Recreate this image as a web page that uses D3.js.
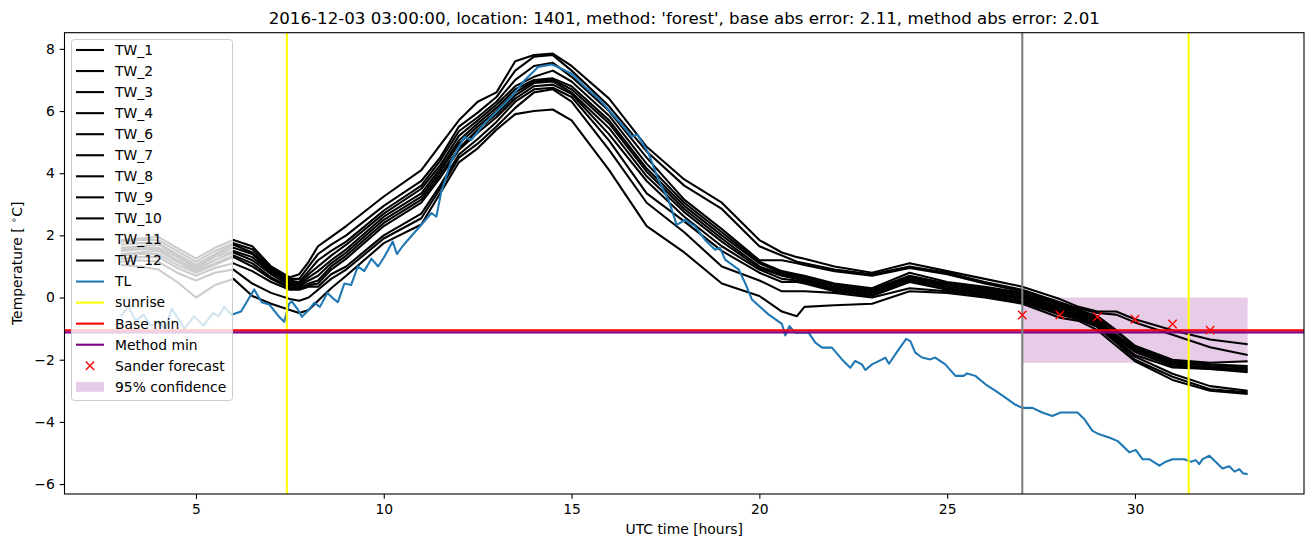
<!DOCTYPE html>
<html><head><meta charset="utf-8">
<script src="https://cdn.jsdelivr.net/npm/d3@7"></script>
<style>body{margin:0;background:#fff} svg{display:block} text{font-family:"DejaVu Sans",sans-serif;fill:#000}</style>
</head><body><svg id="c" width="1313" height="547"></svg>
<script>
// ---------------- data ----------------
const twNames = ["TW_1","TW_2","TW_3","TW_4","TW_6","TW_7","TW_8","TW_9","TW_10","TW_11","TW_12"];
const twHours = [3,3.5,4,4.5,5,5.5,6,6.5,7,7.5,
                 7.75,8,8.25,8.6,9,10,11,11.5,12,12.5,
                 13,13.5,14,14.5,15,16,17,18,19,20,
                 20.6,21,21.2,22,23,24,25,26,27,28,
                 28.5,29,29.5,30,31,32,33];
const tw_1  = [1.85,1.9,1.95,1.6,1.25,1.6,1.85,1.65,1.0,0.65,
               0.75,1.15,1.65,1.95,2.3,3.25,4.1,4.9,5.7,6.3,
               6.6,7.6,7.8,7.85,7.45,6.4,4.85,3.8,3.05,1.85,
               1.45,1.3,1.25,1.0,0.8,1.1,0.85,0.6,0.35,-0.05,
               -0.3,-0.45,-0.45,-0.7,-1.05,-1.35,-1.5];
const tw_2  = [1.8,1.85,1.85,1.5,1.15,1.5,1.75,1.55,0.95,0.6,
               0.6,1.0,1.4,1.7,2.0,2.95,3.75,4.5,5.5,5.95,
               6.45,7.3,7.75,7.8,7.3,6.15,4.7,3.6,2.85,1.65,
               1.35,1.15,1.1,0.9,0.75,1.0,0.8,0.5,0.25,-0.15,
               -0.35,-0.5,-0.55,-0.8,-1.2,-1.6,-1.85];
const tw_3  = [1.7,1.75,1.75,1.4,1.05,1.4,1.7,1.45,0.9,0.55,
               0.5,0.85,1.2,1.5,1.8,2.8,3.6,4.4,5.35,5.8,
               6.3,7.0,7.45,7.55,7.1,6.0,4.5,3.15,2.2,1.2,
               1.2,1.1,1.05,0.85,0.7,0.95,0.75,0.45,0.2,-0.2,
               -0.4,-0.6,-1.05,-1.55,-2.0,-2.1,-2.05];
const tw_4  = [1.6,1.65,1.7,1.35,1.0,1.35,1.6,1.4,0.85,0.5,
               0.45,0.75,1.0,1.35,1.7,2.7,3.5,4.25,5.2,5.7,
               6.2,6.8,7.1,7.3,6.95,5.85,4.3,3.05,2.1,1.15,
               0.85,0.75,0.7,0.45,0.3,0.8,0.5,0.35,0.15,-0.25,
               -0.45,-0.65,-1.1,-1.6,-2.05,-2.15,-2.2];
const tw_6  = [1.55,1.6,1.6,1.3,0.95,1.3,1.5,1.3,0.8,0.45,
               0.4,0.65,0.85,1.2,1.55,2.6,3.35,4.15,5.05,5.6,
               6.1,6.7,7.0,7.05,6.8,5.7,4.15,2.95,2.0,1.1,
               0.8,0.7,0.65,0.4,0.25,0.7,0.45,0.3,0.1,-0.3,
               -0.5,-0.7,-1.2,-1.65,-2.1,-2.2,-2.25];
const tw_7  = [1.5,1.55,1.55,1.2,0.9,1.2,1.45,1.2,0.75,0.4,
               0.35,0.55,0.7,1.1,1.45,2.5,3.25,4.05,4.95,5.5,
               6.0,6.6,6.95,7.0,6.7,5.6,4.05,2.85,1.9,1.0,
               0.75,0.65,0.6,0.35,0.2,0.65,0.4,0.25,0.05,-0.35,
               -0.55,-0.75,-1.25,-1.7,-2.15,-2.25,-2.3];
const tw_8  = [1.4,1.45,1.5,1.15,0.85,1.1,1.35,1.1,0.65,0.35,
               0.3,0.45,0.55,1.0,1.35,2.4,3.15,3.95,4.8,5.4,
               5.9,6.5,6.9,6.95,6.6,5.45,3.9,2.75,1.8,0.95,
               0.7,0.6,0.55,0.3,0.15,0.6,0.35,0.2,0.0,-0.4,
               -0.55,-0.8,-1.3,-1.75,-2.2,-2.3,-2.35];
const tw_9  = [1.35,1.4,1.4,1.05,0.8,1.05,1.3,1.0,0.6,0.3,
               0.3,0.4,0.45,0.9,1.25,2.3,3.05,3.85,4.75,5.3,
               5.8,6.4,6.8,6.85,6.55,5.25,3.75,2.6,1.65,0.9,
               0.6,0.55,0.5,0.25,0.1,0.55,0.3,0.15,-0.05,-0.45,
               -0.6,-0.85,-1.35,-1.85,-2.25,-2.3,-2.4];
const tw_10 = [1.25,1.3,1.3,0.95,0.7,0.95,1.1,0.85,0.5,0.25,
               0.25,0.35,0.35,0.75,1.0,2.0,2.7,3.6,4.6,5.1,
               5.65,6.3,6.7,6.75,6.45,5.05,3.35,2.45,1.5,0.8,
               0.5,0.5,0.45,0.2,0.05,0.5,0.25,0.1,-0.1,-0.5,
               -0.65,-0.9,-1.4,-1.9,-2.45,-2.85,-3.0];
const tw_11 = [1.15,1.2,1.15,0.8,0.55,0.8,0.9,0.45,0.15,-0.05,
               -0.1,0.0,0.25,0.6,0.9,1.9,2.55,3.5,4.5,4.95,
               5.5,6.1,6.6,6.7,6.3,4.75,3.05,2.1,1.0,0.55,
               0.2,0.2,0.2,0.15,0.0,0.3,0.2,0.05,-0.15,-0.55,
               -0.7,-0.95,-1.45,-2.0,-2.55,-2.95,-3.05];
const tw_12 = [1.05,1.0,0.9,0.5,0.0,0.4,0.6,0.05,-0.2,-0.4,
               -0.5,-0.4,-0.1,0.3,0.7,1.75,2.35,3.35,4.35,4.8,
               5.4,5.9,6.0,6.05,5.7,4.1,2.3,1.45,0.45,0.05,
               -0.45,-0.6,-0.3,-0.25,-0.2,0.2,0.15,0.0,-0.2,-0.65,
               -0.75,-1.05,-1.55,-2.05,-2.65,-3.0,-3.1];
const twSeries = [tw_1,tw_2,tw_3,tw_4,tw_6,tw_7,tw_8,tw_9,tw_10,tw_11,tw_12];

const tlHours = [3.0,3.2,3.4,3.6,3.8,4.0,4.2,4.35,4.7,4.95,5.2,5.45,5.6,5.75,5.95,6.2,6.55,6.75,6.95,7.2,
  7.35,7.48,7.55,7.72,7.82,8.0,8.15,8.3,8.5,8.68,8.78,8.95,9.13,9.31,9.48,9.67,9.85,10.0,10.24,10.35,
  10.5,10.73,11.0,11.27,11.4,11.53,11.8,12.15,12.33,12.68,13.05,13.4,13.75,14.11,14.47,14.82,15.0,15.35,15.71,16.07,
  16.38,16.6,16.75,17.05,17.31,17.58,17.8,18.02,18.29,18.55,18.82,18.95,19.09,19.45,19.62,19.8,20.25,20.6,20.69,20.8,
  20.95,21.31,21.49,21.67,21.93,22.2,22.42,22.55,22.73,22.82,23.0,23.27,23.35,23.45,23.71,23.91,24.02,24.15,24.33,24.55,
  24.68,24.95,25.22,25.44,25.53,25.75,26.02,26.29,26.55,26.82,27.0,27.27,27.53,27.8,28.02,28.47,28.65,28.87,29.05,29.31,
  29.53,29.85,30.02,30.2,30.38,30.65,30.82,31.0,31.31,31.49,31.62,31.71,31.8,31.98,32.33,32.51,32.65,32.78,32.87,33.0];
const tlValues = [-0.6,-0.3,-0.75,-0.55,-0.9,-0.8,-1.0,-0.35,-1.0,-0.6,-0.9,-0.5,-0.6,-0.3,-0.55,-0.45,0.26,-0.15,-0.22,-0.6,
  -0.78,-0.2,-0.12,-0.4,-0.62,-0.4,-0.17,-0.3,0.15,-0.06,-0.15,0.45,0.4,1.0,0.85,1.25,1.0,1.28,1.8,1.4,
  1.65,1.97,2.34,2.72,2.6,3.4,4.4,5.17,5.07,5.6,6.03,6.46,6.99,7.42,7.5,7.31,7.2,6.78,6.41,5.93,
  5.5,5.17,5.25,4.64,3.79,3.14,2.34,2.5,2.29,1.86,1.54,1.6,1.22,0.9,0.47,-0.06,-0.55,-0.85,-1.22,-0.92,
  -1.13,-1.13,-1.45,-1.61,-1.61,-1.99,-2.26,-2.04,-2.15,-2.33,-2.15,-1.99,-1.93,-2.13,-1.67,-1.33,-1.4,-1.77,-1.93,-1.99,
  -1.93,-2.15,-2.52,-2.52,-2.44,-2.52,-2.79,-3.0,-3.22,-3.45,-3.55,-3.55,-3.7,-3.81,-3.7,-3.7,-3.91,-4.29,-4.4,-4.5,
  -4.61,-4.98,-4.9,-5.2,-5.2,-5.41,-5.28,-5.2,-5.2,-5.28,-5.23,-5.36,-5.2,-5.09,-5.5,-5.43,-5.6,-5.52,-5.65,-5.68];

const sunriseHours = [7.42, 31.43];
const forecastHour = 27;
const baseMin = -1.05;
const methodMin = -1.12;
const sanderHours = [27, 28, 29, 30, 31, 32];
const sanderValues = [-0.56, -0.56, -0.62, -0.70, -0.85, -1.05];
const confHours = [27, 33];
const confBounds = [-2.1, 0.0];
const xTicks = [5, 10, 15, 20, 25, 30];
const yTicks = [-6, -4, -2, 0, 2, 4, 6, 8];
const xDomain = [1.5, 34.5];
const yDomain = [-6.32, 8.52];
const titleText = "2016-12-03 03:00:00, location: 1401, method: 'forest', base abs error: 2.11, method abs error: 2.01";
const legendLabels = twNames.concat(["TL","sunrise","Base min","Method min","Sander forecast","95% confidence"]);

// ---------------- drawing ----------------
const svg = d3.select("#c");
const L = 64.5, R = 1304, T = 32.7, B = 494;
const LW = 2.08;           // 1.5pt at 100 dpi
const FS = "13.89px";      // 10pt at 100 dpi
const x = d3.scaleLinear().domain(xDomain).range([L, R]);
const y = d3.scaleLinear().domain(yDomain).range([B, T]);

svg.append("defs").append("clipPath").attr("id","clip")
  .append("rect").attr("x",L).attr("y",T).attr("width",R-L).attr("height",B-T);
const plot = svg.append("g").attr("clip-path","url(#clip)");

plot.append("rect")
  .attr("x", x(confHours[0])).attr("width", x(confHours[1]) - x(confHours[0]))
  .attr("y", y(confBounds[1])).attr("height", y(confBounds[0]) - y(confBounds[1]))
  .attr("fill","purple").attr("fill-opacity",0.2);

const line = d3.line().x(d => x(d[0])).y(d => y(d[1]));

twSeries.forEach(s => {
  plot.append("path").datum(twHours.map((h,i)=>[h,s[i]]))
    .attr("d", line).attr("fill","none").attr("stroke","#000").attr("stroke-width",LW)
    .attr("stroke-linejoin","round");
});
plot.append("path").datum(tlHours.map((h,i)=>[h,tlValues[i]]))
  .attr("d", line).attr("fill","none").attr("stroke","#1f77b4").attr("stroke-width",LW)
  .attr("stroke-linejoin","round");

sunriseHours.forEach(h => {
  plot.append("line").attr("x1",x(h)).attr("x2",x(h)).attr("y1",T).attr("y2",B)
    .attr("stroke","yellow").attr("stroke-width",LW);
});
plot.append("line").attr("x1",L).attr("x2",R).attr("y1",y(baseMin)).attr("y2",y(baseMin))
  .attr("stroke","red").attr("stroke-width",LW);
plot.append("line").attr("x1",L).attr("x2",R).attr("y1",y(methodMin)).attr("y2",y(methodMin))
  .attr("stroke","purple").attr("stroke-width",LW);
plot.append("line").attr("x1",x(forecastHour)).attr("x2",x(forecastHour)).attr("y1",T).attr("y2",B)
  .attr("stroke","gray").attr("stroke-width",LW);

const crossPath = "M-4.2,-4.2L4.2,4.2M-4.2,4.2L4.2,-4.2";
sanderHours.forEach((h,i) => {
  plot.append("path").attr("d",crossPath)
    .attr("transform",`translate(${x(h)},${y(sanderValues[i])})`)
    .attr("stroke","red").attr("stroke-width",1.39).attr("fill","none");
});

// axes
const fmt = d3.format("d");
const xAxis = svg.append("g").attr("transform",`translate(0,${B})`)
  .call(d3.axisBottom(x).tickValues(xTicks).tickFormat(fmt).tickSizeInner(4.86).tickSizeOuter(0).tickPadding(4.86));
const yAxis = svg.append("g").attr("transform",`translate(${L},0)`)
  .call(d3.axisLeft(y).tickValues(yTicks).tickFormat(fmt).tickSizeInner(4.86).tickSizeOuter(0).tickPadding(4.86));
[xAxis, yAxis].forEach(a => {
  a.select(".domain").remove();
  a.selectAll(".tick line").attr("stroke","#000").attr("stroke-width",1.1);
  a.selectAll(".tick text").attr("font-family","DejaVu Sans").attr("font-size",FS).attr("fill","#000");
});

// frame
svg.append("rect").attr("x",L).attr("y",T).attr("width",R-L).attr("height",B-T)
  .attr("fill","none").attr("stroke","#000").attr("stroke-width",1.1);

// title and labels
svg.append("text").attr("x",(L+R)/2).attr("y",24).attr("text-anchor","middle")
  .attr("font-size","16.67px").text(titleText);
svg.append("text").attr("x",(L+R)/2).attr("y",534).attr("text-anchor","middle")
  .attr("font-size",FS).text("UTC time [hours]");
const yl = svg.append("text").attr("transform",`translate(22,${(T+B)/2}) rotate(-90)`)
  .attr("text-anchor","middle").attr("font-size",FS);
yl.append("tspan").text("Temperature [ ");
yl.append("tspan").attr("dy",-5).attr("font-size","9.7px").text("∘");
yl.append("tspan").attr("dy",5).text("C]");

// legend
const lg = svg.append("g");
lg.append("rect").attr("x",71.5).attr("y",39.5).attr("width",161).attr("height",361).attr("rx",3)
  .attr("fill","#fff").attr("fill-opacity",0.8).attr("stroke","#cccccc").attr("stroke-width",1);
const handleColors = twNames.map(()=>"#000").concat(["#1f77b4","yellow","red","purple"]);
legendLabels.forEach((lab,i) => {
  const cy = 50 + i*21.05;
  if (i < handleColors.length) {
    lg.append("line").attr("x1",76).attr("x2",104).attr("y1",cy).attr("y2",cy)
      .attr("stroke",handleColors[i]).attr("stroke-width",LW);
  } else if (lab === "Sander forecast") {
    lg.append("path").attr("d",crossPath).attr("transform",`translate(90,${cy})`)
      .attr("stroke","red").attr("stroke-width",1.39).attr("fill","none");
  } else {
    lg.append("rect").attr("x",76).attr("y",cy-5).attr("width",28).attr("height",10)
      .attr("fill","purple").attr("fill-opacity",0.2);
  }
  lg.append("text").attr("x",115).attr("y",cy).attr("dy","0.35em")
    .attr("font-size",FS).text(lab);
});
</script></body></html>
